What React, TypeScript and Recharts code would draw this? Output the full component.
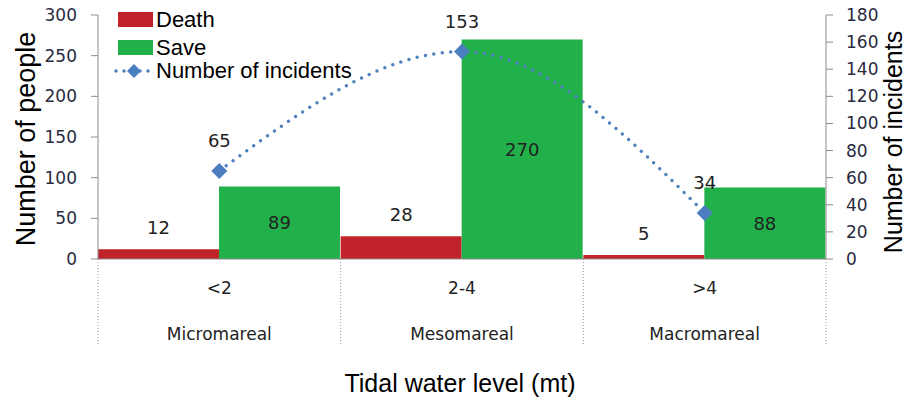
import React from 'react';
import { ComposedChart, Bar, Line, XAxis, YAxis, LabelList, Label, Legend } from 'recharts';

const categories = ['<2', '2-4', '>4'];
const zones = ['Micromareal', 'Mesomareal', 'Macromareal'];
const death = [12, 28, 5];
const save = [89, 270, 88];
const incidents = [65, 153, 34];
const leftTicks = [0, 50, 100, 150, 200, 250, 300];
const rightTicks = [0, 20, 40, 60, 80, 100, 120, 140, 160, 180];

const data = categories.map((c, i) => ({
  cat: c,
  zone: zones[i],
  death: death[i],
  save: save[i],
  incidents: incidents[i],
}));

const W = 909;
const H = 401;
const LEFT_W = 98;
const RIGHT_W = 83;
const TOP = 15;
const XAXIS_H = 142;
const PLOT_W = W - LEFT_W - RIGHT_W;
const BAND = PLOT_W / categories.length;

const RED = '#C1232B';
const GREEN = '#22B04B';
const BLUE = '#4F81BD';
const DIAMOND = '#4A7EBF';
const TICK_COLOR = '#2a2a40';
const AXIS_COLOR = '#8c8c8c';
const SANS = 'Liberation Sans, Arial, sans-serif';
const DEJ = 'DejaVu Sans, sans-serif';

const CategoryTick = (props: any) => {
  const { x, y, payload, index } = props;
  const zone = zones[index] ?? '';
  const lx = x - BAND / 2;
  const rx = x + BAND / 2;
  return (
    <g>
      <line x1={lx} y1={y} x2={lx} y2={y + 85} stroke="#999" strokeWidth={1} strokeDasharray="1 2" />
      {index === categories.length - 1 && (
        <line x1={rx} y1={y} x2={rx} y2={y + 85} stroke="#999" strokeWidth={1} strokeDasharray="1 2" />
      )}
      <text x={x} y={y + 29} textAnchor="middle" dominantBaseline="central" fontSize={17} fontFamily={DEJ} fill="#222">
        {payload.value}
      </text>
      <text x={x} y={y + 75} textAnchor="middle" dominantBaseline="central" fontSize={17} fontFamily={DEJ} fill="#222">
        {zone}
      </text>
    </g>
  );
};

const Diamond = (props: any) => {
  const { cx, cy, index } = props;
  if (cx == null || cy == null) return <g key={`d-${index}`} />;
  const r = 8;
  return (
    <path
      key={`d-${index}`}
      d={`M${cx},${cy - r} L${cx + r},${cy} L${cx},${cy + r} L${cx - r},${cy} Z`}
      fill={DIAMOND}
    />
  );
};

const LegendContent = () => (
  <svg width={380} height={90} style={{ display: 'block' }}>
    <rect x={118} y={12} width={35} height={15} fill={RED} />
    <text x={156} y={27} fontSize={22} fontFamily={SANS} fill="#000">Death</text>
    <rect x={118} y={40} width={35} height={15} fill={GREEN} />
    <text x={156} y={55} fontSize={22} fontFamily={SANS} fill="#000">Save</text>
    <line x1={116} y1={71} x2={152} y2={71} stroke={BLUE} strokeWidth={3.5} strokeDasharray="0 8" strokeLinecap="round" />
    <path d="M134,64 L141,71 L134,78 L127,71 Z" fill={DIAMOND} />
    <text x={156} y={78} fontSize={22} fontFamily={SANS} fill="#000">Number of incidents</text>
  </svg>
);

export default function App() {
  return (
    <div style={{ position: 'absolute', left: 0, top: 0, width: W, height: H, background: '#fff' }}>
      <ComposedChart
        width={W}
        height={H}
        data={data}
        margin={{ top: TOP, right: 0, bottom: 0, left: 0 }}
        barCategoryGap={0}
        barGap={0}
      >
        <XAxis
          dataKey="cat"
          xAxisId="x"
          height={XAXIS_H}
          tickSize={0}
          tickMargin={0}
          tickLine={false}
          axisLine={{ stroke: AXIS_COLOR }}
          tick={<CategoryTick />}
          interval={0}
        >
          <Label
            content={(p: any) => {
              const vb = p.viewBox || { x: LEFT_W, y: H - XAXIS_H, width: PLOT_W, height: XAXIS_H };
              return (
                <text x={vb.x + vb.width / 2 - 2} y={392} textAnchor="middle" fontSize={25} fontFamily={SANS} fill="#000">
                  Tidal water level (mt)
                </text>
              );
            }}
          />
        </XAxis>
        <YAxis
          yAxisId="left"
          orientation="left"
          width={LEFT_W}
          domain={[0, 300]}
          ticks={leftTicks}
          tickSize={7}
          tickMargin={14}
          axisLine={{ stroke: AXIS_COLOR }}
          tickLine={{ stroke: AXIS_COLOR }}
          tick={{ fontSize: 17, fontFamily: DEJ, fill: TICK_COLOR }}
        >
          <Label
            content={() => (
              <text x={35} y={139} transform="rotate(-90, 35, 139)" textAnchor="middle" fontSize={27} fontFamily={SANS} fill="#000">
                Number of people
              </text>
            )}
          />
        </YAxis>
        <YAxis
          yAxisId="right"
          orientation="right"
          width={RIGHT_W}
          domain={[0, 180]}
          ticks={rightTicks}
          tickSize={7}
          tickMargin={13}
          axisLine={{ stroke: AXIS_COLOR }}
          tickLine={{ stroke: AXIS_COLOR }}
          tick={{ fontSize: 17, fontFamily: DEJ, fill: TICK_COLOR, textAnchor: 'start' }}
        >
          <Label
            content={() => (
              <text x={902} y={142} transform="rotate(-90, 902, 142)" textAnchor="middle" fontSize={25} fontFamily={SANS} fill="#000">
                Number of incidents
              </text>
            )}
          />
        </YAxis>
        <Legend
          layout="vertical"
          align="center"
          verticalAlign="middle"
          content={<LegendContent />}
          wrapperStyle={{ left: 0, top: 0, width: 380, height: 90 }}
        />
        <Bar dataKey="death" xAxisId="x" yAxisId="left" fill={RED} isAnimationActive={false}>
          <LabelList dataKey="death" position="top" offset={15} fontSize={18} fontFamily={DEJ} fill="#222" />
        </Bar>
        <Bar dataKey="save" xAxisId="x" yAxisId="left" fill={GREEN} isAnimationActive={false}>
          <LabelList dataKey="save" position="center" fontSize={18} fontFamily={DEJ} fill="#222" />
        </Bar>
        <Line
          dataKey="incidents"
          xAxisId="x"
          yAxisId="right"
          type="monotone"
          stroke={BLUE}
          strokeWidth={3.5}
          strokeDasharray="0 8.5"
          strokeLinecap="round"
          dot={<Diamond />}
          activeDot={false}
          isAnimationActive={false}
        >
          <LabelList dataKey="incidents" position="top" offset={24} fontSize={18} fontFamily={DEJ} fill="#222" />
        </Line>
      </ComposedChart>
    </div>
  );
}
